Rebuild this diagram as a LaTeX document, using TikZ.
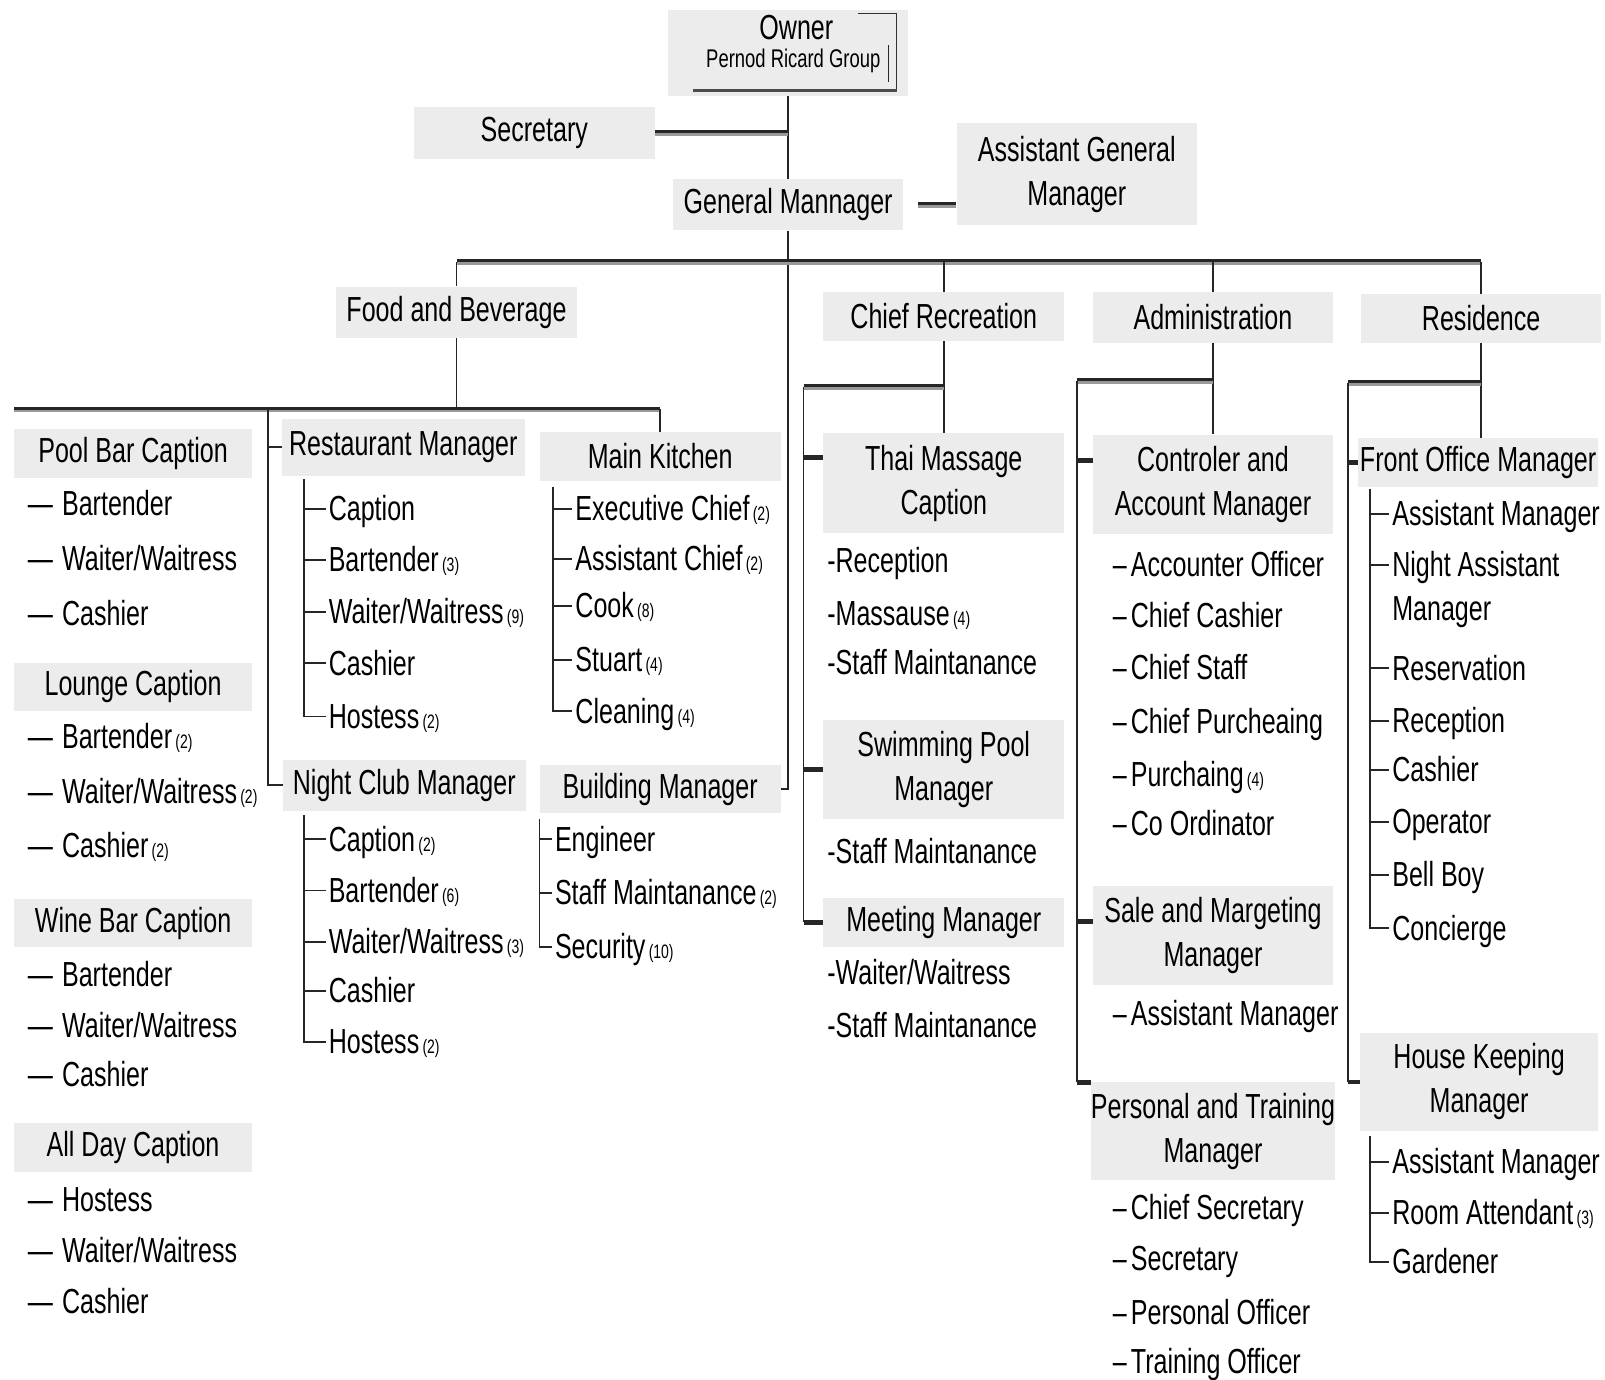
\documentclass[tikz,border=0pt]{standalone}
\usepackage{fontspec}
\setmainfont{Liberation Sans}[FakeStretch=0.72]
\newcommand\bigf{\fontsize{34}{43}\selectfont}
\newcommand\subf{\fontsize{25}{28}\selectfont}
\newcommand\cnt[1]{{\fontsize{19}{19}\selectfont\,(#1)}}
\definecolor{boxgray}{RGB}{236,236,236}

\begin{document}
\begin{tikzpicture}[x=1pt,y=-1pt,
  box/.style={fill=boxgray, inner sep=0pt, align=center, font=\bigf},
  item/.style={anchor=west, inner xsep=3pt, inner ysep=0pt, font=\bigf, text height=24pt, text depth=1pt},
  link/.style={line width=1.8pt, black!85},
  tick/.style={line width=4.5pt, black!85},
  bar/.style={line width=5.5pt, black!40,
    postaction={draw, black!85, line width=2.8pt, transform canvas={yshift=1.3pt}}}]
\useasboundingbox (0,0) rectangle (1568,1348);

% ---------- top of the organisation ----------
\node[box, minimum width=235pt, minimum height=84pt] (owner) at (770,52) {};
\node[font=\bigf, inner sep=0pt] (ownerT) at (778,27) {Owner};
\node[font=\subf, inner sep=0pt] (ownerG) at (775,59) {Pernod Ricard Group};
\draw[black!80, line width=1.5pt] (838,13) -- (876,13) -- (876,88);
\draw[black!70, line width=3pt] (677,88) -- (876,88);
\draw[black!85, line width=1.2pt] (868,44) -- (868,80);

\node[box, minimum width=235pt, minimum height=50pt] (sec) at (522,130) {Secretary};
\node[box, minimum width=225pt, minimum height=50pt] (gm) at (770,200) {General Mannager};
\node[box, minimum width=235pt, minimum height=100pt] (agm) at (1052,170) {Assistant General\\Manager};

% ---------- divisions ----------
\node[box, minimum width=235pt, minimum height=50pt] (fb) at (446,305) {Food and Beverage};
\node[box, minimum width=235pt, minimum height=48pt] (crec) at (922,309) {Chief Recreation};
\node[box, minimum width=235pt, minimum height=50pt] (admin) at (1185,310) {Administration};
\node[box, minimum width=235pt, minimum height=48pt] (resid) at (1447,311) {Residence};

% ---------- food and beverage: bars ----------
\node[box, minimum width=233pt, minimum height=47pt] (pool) at (130,443) {Pool Bar Caption};
\node[item] (p1) at (24,492) {—\hspace{9pt}Bartender};
\node[item] (p2) at (24,546) {—\hspace{9pt}Waiter/Waitress};
\node[item] (p3) at (24,600) {—\hspace{9pt}Cashier};

\node[box, minimum width=233pt, minimum height=47pt] (lounge) at (130,671) {Lounge Caption};
\node[item] (l1) at (24,720) {—\hspace{9pt}Bartender\cnt{2}};
\node[item] (l2) at (24,773) {—\hspace{9pt}Waiter/Waitress\cnt{2}};
\node[item] (l3) at (24,826) {—\hspace{9pt}Cashier\cnt{2}};

\node[box, minimum width=233pt, minimum height=47pt] (wine) at (130,902) {Wine Bar Caption};
\node[item] (w1) at (24,952) {—\hspace{9pt}Bartender};
\node[item] (w2) at (24,1002) {—\hspace{9pt}Waiter/Waitress};
\node[item] (w3) at (24,1050) {—\hspace{9pt}Cashier};

\node[box, minimum width=233pt, minimum height=47pt] (allday) at (130,1121) {All Day Caption};
\node[item] (a1) at (24,1172) {—\hspace{9pt}Hostess};
\node[item] (a2) at (24,1222) {—\hspace{9pt}Waiter/Waitress};
\node[item] (a3) at (24,1272) {—\hspace{9pt}Cashier};

% ---------- food and beverage: managers ----------
\node[box, minimum width=237pt, minimum height=56pt] (rest) at (394,437) {Restaurant Manager};
\node[item] (r1) at (318,497) {Caption};
\node[item] (r2) at (318,547) {Bartender\cnt{3}};
\node[item] (r3) at (318,598) {Waiter/Waitress\cnt{9}};
\node[item] (r4) at (318,648) {Cashier};
\node[item] (r5) at (318,700) {Hostess\cnt{2}};

\node[box, minimum width=237pt, minimum height=50pt] (night) at (395,767) {Night Club Manager};
\node[item] (n1) at (318,820) {Caption\cnt{2}};
\node[item] (n2) at (318,870) {Bartender\cnt{6}};
\node[item] (n3) at (318,920) {Waiter/Waitress\cnt{3}};
\node[item] (n4) at (318,968) {Cashier};
\node[item] (n5) at (318,1018) {Hostess\cnt{2}};

\node[box, minimum width=235pt, minimum height=47pt] (kitchen) at (645,446) {Main Kitchen};
\node[item] (k1) at (559,497) {Executive Chief\cnt{2}};
\node[item] (k2) at (559,546) {Assistant Chief\cnt{2}};
\node[item] (k3) at (559,592) {Cook\cnt{8}};
\node[item] (k4) at (559,645) {Stuart\cnt{4}};
\node[item] (k5) at (559,695) {Cleaning\cnt{4}};

\node[box, minimum width=235pt, minimum height=47pt] (building) at (645,771) {Building Manager};
\node[item] (b1) at (539,820) {Engineer};
\node[item] (b2) at (539,872) {Staff Maintanance\cnt{2}};
\node[item] (b3) at (539,925) {Security\cnt{10}};

% ---------- recreation ----------
\node[box, minimum width=235pt, minimum height=97pt] (thai) at (922,472) {Thai Massage\\Caption};
\node[item] (t1) at (805,548) {-Reception};
\node[item] (t2) at (805,600) {-Massause\cnt{4}};
\node[item] (t3) at (805,647) {-Staff Maintanance};

\node[box, minimum width=235pt, minimum height=97pt] (swim) at (922,752) {Swimming Pool\\Manager};
\node[item] (s1) at (805,832) {-Staff Maintanance};

\node[box, minimum width=235pt, minimum height=48pt] (meeting) at (922,901) {Meeting Manager};
\node[item] (m1) at (805,950) {-Waiter/Waitress};
\node[item] (m2) at (805,1002) {-Staff Maintanance};

% ---------- administration ----------
\node[box, minimum width=235pt, minimum height=97pt] (ctrl) at (1185,473) {Controler and\\Account Manager};
\node[item] (c1) at (1084,552) {–\hspace{4pt}Accounter Officer};
\node[item] (c2) at (1084,602) {–\hspace{4pt}Chief Cashier};
\node[item] (c3) at (1084,652) {–\hspace{4pt}Chief Staff};
\node[item] (c4) at (1084,705) {–\hspace{4pt}Chief Purcheaing};
\node[item] (c5) at (1084,757) {–\hspace{4pt}Purchaing\cnt{4}};
\node[item] (c6) at (1084,805) {–\hspace{4pt}Co Ordinator};

\node[box, minimum width=235pt, minimum height=97pt] (sale) at (1185,914) {Sale and Margeting\\Manager};
\node[item] (sa1) at (1084,990) {–\hspace{4pt}Assistant Manager};

\node[box, minimum width=235pt, minimum height=95pt] (pers) at (1185,1105) {Personal and Training\\Manager};
\node[item] (pe1) at (1084,1180) {–\hspace{4pt}Chief Secretary};
\node[item] (pe2) at (1084,1230) {–\hspace{4pt}Secretary};
\node[item] (pe3) at (1084,1282) {–\hspace{4pt}Personal Officer};
\node[item] (pe4) at (1084,1330) {–\hspace{4pt}Training Officer};

% ---------- residence ----------
\node[box, minimum width=235pt, minimum height=48pt] (front) at (1444,452) {Front Office Manager};
\node[item] (f1) at (1357,502) {Assistant Manager};
\node[item] (f2) at (1357,552) {Night Assistant};
\node[item] (f2b) at (1357,595) {Manager};
\node[item] (f3) at (1357,653) {Reservation};
\node[item] (f4) at (1357,704) {Reception};
\node[item] (f5) at (1357,752) {Cashier};
\node[item] (f6) at (1357,803) {Operator};
\node[item] (f7) at (1357,855) {Bell Boy};
\node[item] (f8) at (1357,907) {Concierge};

\node[box, minimum width=232pt, minimum height=95pt] (house) at (1445,1057) {House Keeping\\Manager};
\node[item] (h1) at (1357,1135) {Assistant Manager};
\node[item] (h2) at (1357,1185) {Room Attendant\cnt{3}};
\node[item] (h3) at (1357,1233) {Gardener};

% ---------- connectors: top ----------
\draw[link] (owner.south) -- (gm.north);
\draw[link] (gm.south) |- (building.east);
\draw[bar] (sec.east) -- (sec.east -| gm.north);
\draw[bar] ([xshift=14pt]gm.east) -- (gm.east -| agm.west);

\coordinate (bus) at (770,256);
\draw[bar] (bus -| fb.north) -- (bus -| resid.north);
\foreach \d in {fb,crec,admin,resid}
  \draw[link] (bus -| \d.north) -- (\d.north);

% ---------- connectors: food and beverage ----------
\coordinate (fbL) at (14,400);
\coordinate (fbR) at (645,400);
\coordinate (fbV) at (262,400);
\draw[link] (fb.south) -- (fb.south |- fbL);
\draw[bar] (fbL) -- (fbR);
\draw[link] (fbR) -- (kitchen.north);
\draw[link] (fbV) |- (rest.west);
\draw[link] (fbV) |- (night.west);

\coordinate (restV) at (297,468);
\draw[link] (restV) |- (r5.west);
\foreach \i in {r1,r2,r3,r4} \draw[link] (restV |- \i.west) -- (\i.west);

\coordinate (nightV) at (297,796);
\draw[link] (nightV) |- (n5.west);
\foreach \i in {n1,n2,n3,n4} \draw[link] (nightV |- \i.west) -- (\i.west);

\coordinate (kitV) at (540,476);
\draw[link] (kitV) |- (k5.west);
\foreach \i in {k1,k2,k3,k4} \draw[link] (kitV |- \i.west) -- (\i.west);

\coordinate (bldV) at (527,800);
\draw[link] (bldV) |- (b3.west);
\foreach \i in {b1,b2} \draw[link] (bldV |- \i.west) -- (\i.west);

% ---------- connectors: recreation ----------
\coordinate (crecL) at (785,378);
\draw[link] (crec.south) -- (thai.north);
\draw[bar] (crecL) -- (crecL -| crec.south);
\draw[link] (crecL) -- (crecL |- meeting.west);
\path ([yshift=25pt]thai.west) coordinate (thaiTk);
\draw[tick] (crecL |- thaiTk) -- (thaiTk);
\draw[tick] (crecL |- swim.west) -- (swim.west);
\draw[tick] (crecL |- meeting.west) -- (meeting.west);

% ---------- connectors: administration ----------
\coordinate (admL) at (1052,372);
\draw[link] (admin.south) -- (ctrl.north);
\draw[bar] (admL) -- (admL -| admin.south);
\draw[link] (admL) -- (admL |- pers.north);
\path ([yshift=23pt]ctrl.west) coordinate (ctrlTk);
\path ([yshift=14pt]sale.west) coordinate (saleTk);
\draw[tick] (admL |- ctrlTk) -- (ctrlTk);
\draw[tick] (admL |- saleTk) -- (saleTk);
\draw[tick] (admL |- pers.north) -- (pers.north west);

% ---------- connectors: residence ----------
\coordinate (resL) at (1317,374);
\draw[link] (resid.south) -- (resid.south |- front.north);
\draw[bar] (resL) -- (resL -| resid.south);
\draw[link] (resL) -- (resL |- house.west);
\draw[tick] (resL |- front.west) -- (front.west);
\draw[tick] (resL |- house.west) -- (house.west);

\coordinate (foV) at (1338,478);
\draw[link] (foV) |- (f8.west);
\foreach \i in {f1,f2,f3,f4,f5,f6,f7} \draw[link] (foV |- \i.west) -- (\i.west);

\coordinate (hkV) at (1338,1110);
\draw[link] (hkV) |- (h3.west);
\foreach \i in {h1,h2} \draw[link] (hkV |- \i.west) -- (\i.west);
\end{tikzpicture}
\end{document}
